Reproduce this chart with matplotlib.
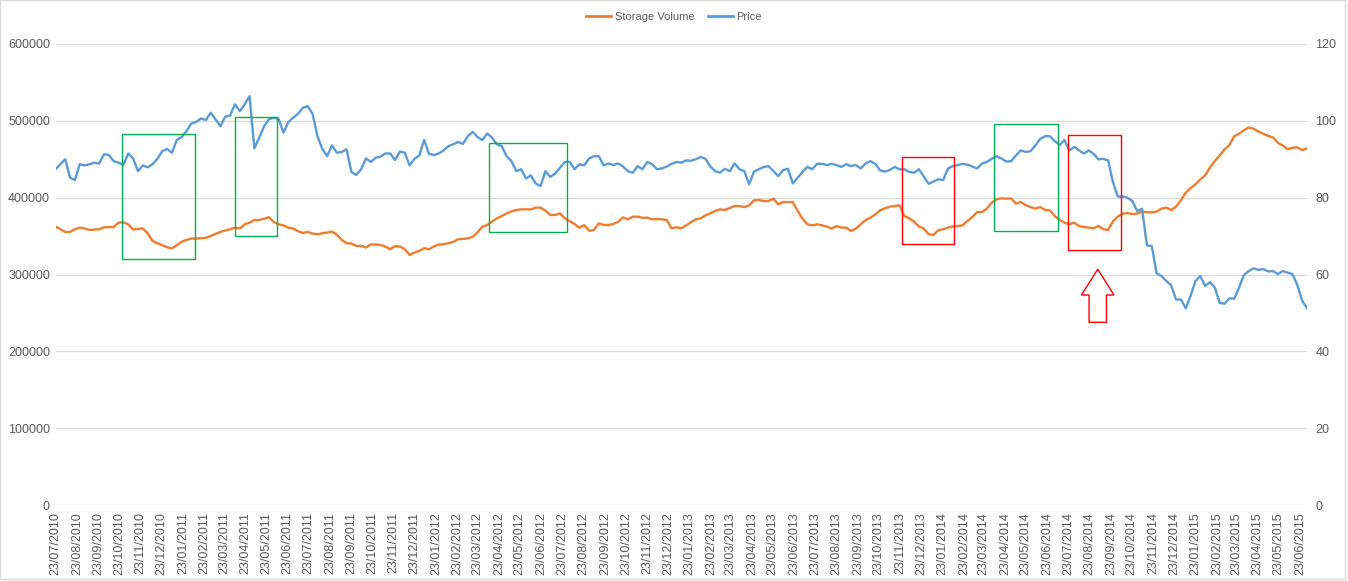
import numpy as np
import pandas as pd
import matplotlib
matplotlib.use('Agg')
import matplotlib.pyplot as plt
import matplotlib.dates as mdates
from matplotlib.patches import Rectangle, Polygon
from matplotlib.lines import Line2D

plt.rcParams['font.family'] = ['Liberation Sans', 'DejaVu Sans']

# weekly observations, 23/07/2010 .. 03/07/2015
dates = pd.date_range('2010-07-23', periods=259, freq='7D')

price = [
    87.4, 88.7, 90.0, 85.2, 84.6, 88.7, 88.4, 88.7, 89.1, 88.9,
    91.3, 91.1, 89.5, 89.1, 88.5, 91.5, 90.2, 86.9, 88.4, 87.9,
    88.7, 90.1, 92.1, 92.7, 91.7, 95.0, 95.8, 97.3, 99.3, 99.7,
    100.6, 100.2, 102.1, 100.4, 98.6, 101.1, 101.4, 104.3, 102.5, 104.3,
    106.4, 92.8, 95.6, 98.6,
    100.4, 100.8, 100.5, 96.9, 99.7, 100.8, 101.8, 103.4, 103.8, 101.8,
    96.0, 92.7, 90.8, 93.6, 91.7, 91.9, 92.6, 86.7, 85.9, 87.4,
    90.2, 89.3, 90.4, 90.7, 91.5, 91.5, 89.8, 92.0, 91.7, 88.4,
    90.1, 91.0, 95.0, 91.4, 91.1, 91.5, 92.3, 93.4, 93.9, 94.5,
    94.0, 96.0, 97.1, 95.8,
    95.0, 96.7, 95.6, 93.9, 93.4, 90.8, 89.5, 86.9, 87.4, 85.0,
    85.8, 83.7, 83.0, 86.9, 85.4, 86.3, 87.8, 89.3, 89.3, 87.4,
    88.7, 88.4, 90.2, 90.8, 90.8, 88.4, 88.9, 88.5, 88.9, 88.1,
    86.9, 86.5, 88.2, 87.4, 89.3, 88.7, 87.4, 87.6, 88.1, 88.8,
    89.3, 89.1, 89.7, 89.6,
    90.0, 90.6, 90.1, 88.1, 86.9, 86.5, 87.5, 86.9, 88.9, 87.4,
    86.9, 83.5, 86.8, 87.4, 88.0, 88.2, 86.9, 85.6, 87.2, 87.5,
    83.7, 85.2, 86.7, 88.0, 87.4, 88.8, 88.8, 88.5, 88.8, 88.5,
    88.0, 88.7, 88.2, 88.5, 87.6, 88.9, 89.5, 88.8, 87.1, 86.8,
    87.2, 88.0, 87.4,
    87.4, 86.7, 86.5, 87.4, 85.5, 83.6, 84.2, 84.8, 84.6, 87.6,
    88.2, 88.5, 88.8, 88.6, 88.1, 87.6, 88.9, 89.3, 90.1, 90.8,
    90.2, 89.4, 89.5, 91.0, 92.3, 91.9, 92.1, 93.6, 95.3, 96.0,
    96.0, 94.7, 93.7, 95.0, 92.3, 93.2, 92.3, 91.5, 92.3, 91.4,
    90.0, 90.1, 89.7,
    84.0, 80.3, 80.3, 80.0, 79.1, 76.5, 77.1, 67.6, 67.4, 60.3,
    59.6, 58.3, 57.2, 53.5, 53.5, 51.2, 54.4, 58.3, 59.6, 57.0,
    58.0, 56.6, 52.6, 52.4, 53.8, 53.7, 56.6, 59.9, 60.9, 61.6,
    61.2, 61.4, 60.8, 60.9, 60.1, 60.9, 60.5, 60.1, 57.3, 53.2,
    51.2,
]

storage_volume = [
    362400, 358900, 355400, 355400, 358900, 361000, 359800, 358000, 358500, 358900,
    361400, 361800, 361800, 367500, 367900, 365300, 358500, 359400, 359800, 353700,
    343600, 340700, 338100, 335500, 333800, 338100, 342500, 345000, 346800, 346800,
    347200, 347600, 350200, 352800, 355400, 357100, 358900, 361000, 359800, 365300,
    367500, 370900, 370900, 372600,
    374500, 368300, 365300, 364000, 361000, 359800, 356300, 354100, 355400, 353300,
    352400, 353700, 354600, 355800, 352000, 345000, 340700, 340300, 337200, 337200,
    335100, 339000, 339000, 338600, 336400, 332900, 336800, 336400, 332900, 325500,
    328600, 330700, 334200, 332900, 336400, 339000, 339400, 340700, 342500, 345900,
    346300, 347000, 349000, 355000,
    362200, 364400, 368700, 373100, 376100, 379500, 382200, 383900, 384800, 384800,
    384800, 387000, 387000, 383100, 377500, 377500, 379600, 373100, 369600, 365600,
    360900, 364400, 357000, 357900, 366600, 364400, 364400, 365700, 368700, 374400,
    371800, 375200, 375200, 373900, 373900, 371800, 372200, 371800, 371000, 360100,
    361400, 360100, 363800, 368000,
    371800, 373100, 377000, 379600, 382600, 384800, 383900, 386500, 389100, 389100,
    387800, 390000, 396500, 396900, 395600, 395600, 398700, 391300, 394300, 394300,
    394300, 382600, 372700, 365300, 364000, 365300, 364000, 362400, 359800, 363100,
    361000, 361000, 356600, 359800, 365300, 370900, 374000, 378300, 383500, 386100,
    388300, 389100, 390000,
    376100, 373100, 368800, 362400, 359800, 352400, 351500, 357600, 358900, 361100,
    362400, 363100, 364000, 369600, 374800, 381300, 381300, 385700, 393500, 397800,
    399100, 398700, 399100, 392200, 394300, 390400, 387800, 385700, 387800, 383900,
    383500, 376100, 370900, 367500, 365300, 367500, 363100, 361800, 361000, 360100,
    363100, 358900, 358000,
    369200, 375300, 379200, 380000, 378700, 379200, 381800, 381000, 381000, 381800,
    385700, 387000, 383900, 388300, 396500, 406500, 412500, 417300, 423800, 428900,
    439300, 447500, 454900, 462700, 468300, 480000, 483100, 487800, 491300, 489600,
    486100, 483100, 480500, 478300, 471400, 467900, 463100, 464900, 465600, 461800,
    464000,
]

tick_dates = pd.date_range('2010-07-23', '2015-06-23', freq=pd.DateOffset(months=1))
volume_ticks = [0, 100000, 200000, 300000, 400000, 500000, 600000]
price_ticks = [0, 20, 40, 60, 80, 100, 120]

# highlighted periods: start, end, low, high (storage axis), colour
boxes = [
    ('2010-10-27', '2011-02-09', 320000, 482500, '#00B050'),
    ('2011-04-08', '2011-06-08', 350000, 504500, '#00B050'),
    ('2012-04-09', '2012-07-30', 355000, 470500, '#00B050'),
    ('2013-11-26', '2014-02-08', 339500, 452500, '#FF0000'),
    ('2014-04-08', '2014-07-08', 356000, 495500, '#00B050'),
    ('2014-07-23', '2014-10-08', 332000, 481500, '#FF0000'),
]

orange = '#ED7D31'
blue = '#5B9BD5'
grey = '#595959'
grid = '#D9D9D9'

W, H = 1348, 581
fig = plt.figure(figsize=(W / 100, H / 100), dpi=100)
ax = fig.add_axes([55.5 / W, 76 / H, (1307 - 55.5) / W, 461 / H])
ax2 = ax.twinx()

x = mdates.date2num(dates)
ax.plot(x, storage_volume, color=orange, lw=1.7, solid_joinstyle='round')
ax2.plot(x, price, color=blue, lw=1.7, solid_joinstyle='round')

ax.set_xlim(x[0], x[-1])
ax.set_ylim(0, 600000)
ax2.set_ylim(0, 120)

ax.set_yticks(volume_ticks)
ax.set_yticklabels([str(v) for v in volume_ticks])
ax2.set_yticks(price_ticks)
ax2.set_yticklabels([str(v) for v in price_ticks])
ax.yaxis.grid(True, color=grid, lw=0.9)
ax.set_axisbelow(True)

tx = mdates.date2num(tick_dates)
ax.set_xticks(tx)
ax.set_xticklabels([d.strftime('%d/%m/%Y') for d in tick_dates], rotation=90)

for a in (ax, ax2):
    for s in a.spines.values():
        s.set_visible(False)
    a.tick_params(length=0, labelsize=9, colors=grey)
ax.tick_params(axis='x', pad=5)
ax.tick_params(axis='y', pad=4)
ax2.tick_params(axis='y', pad=6)

for start, end, low, high, col in boxes:
    x0 = mdates.date2num(pd.Timestamp(start))
    x1 = mdates.date2num(pd.Timestamp(end))
    ax2.add_patch(Rectangle((x0, low / 5000), x1 - x0, (high - low) / 5000,
                            fill=False, edgecolor=col, lw=1.0, zorder=5))

# up arrow under the second red box
t = mdates.date2num(pd.Timestamp('2014-09-04'))
arrow = [(t, 306800), (t + 23.5, 273300), (t + 12.5, 273300), (t + 12.5, 237800),
         (t - 12.5, 237800), (t - 12.5, 273300), (t - 23.5, 273300)]
ax2.add_patch(Polygon([(a, b / 5000) for a, b in arrow], closed=True,
                      facecolor='white', edgecolor='#FF0000', lw=1.0, zorder=5))

handles = [Line2D([], [], color=orange, lw=2), Line2D([], [], color=blue, lw=2)]
fig.legend(handles, ['Storage Volume', 'Price'], loc='center',
           bbox_to_anchor=(0.5, 1 - 17 / H), ncol=2, frameon=False,
           fontsize=8, labelcolor=grey, handlelength=2.3, columnspacing=1.2,
           handletextpad=0.3)

fig.add_artist(Rectangle((0, 2 / H), 1345 / W, 1 - 2 / H, transform=fig.transFigure,
                         fill=False, edgecolor=grid, lw=1))

fig.savefig('out.png', dpi=100)
